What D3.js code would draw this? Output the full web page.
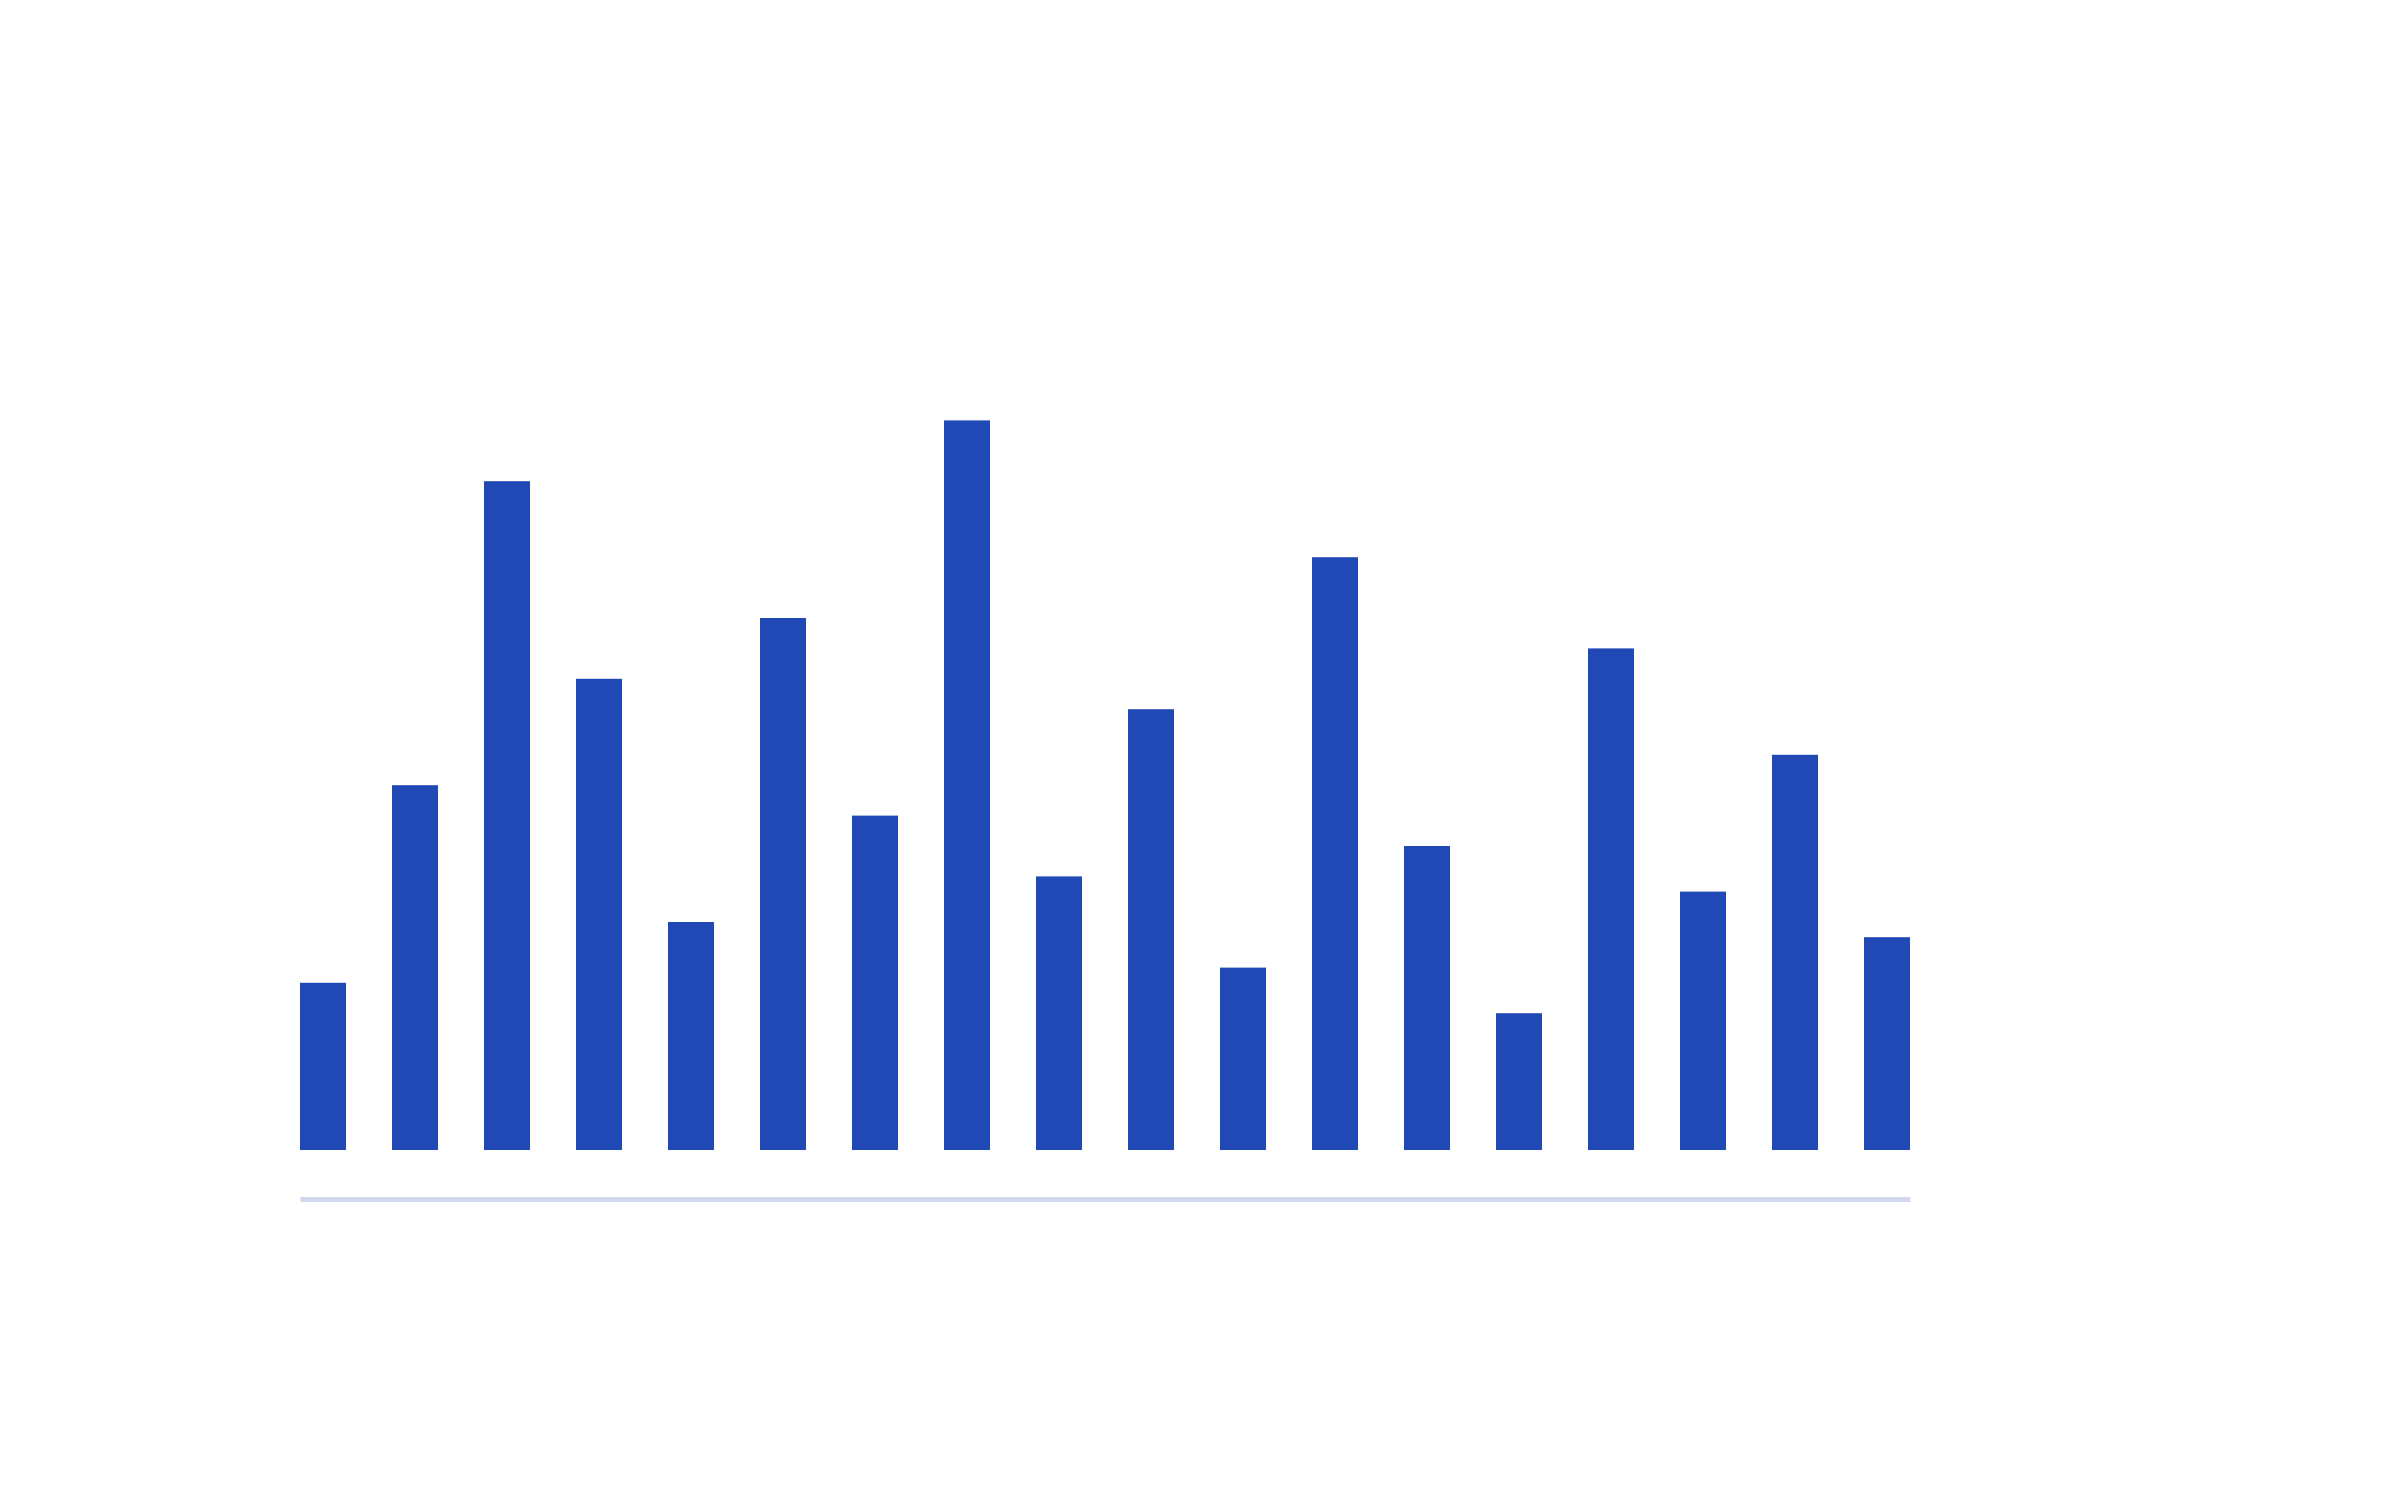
<!DOCTYPE html>
<html>
<head>
<meta charset="utf-8">
<script src="https://cdn.jsdelivr.net/npm/d3@7"></script>
<style>
  body { margin: 0; background: #fff; }
  svg { display: block; }
</style>
</head>
<body>
<svg id="chart" width="2400" height="1500"></svg>
<script>
// one bar per category, no tick labels shown in the original
const categories = ["c1", "c2", "c3", "c4", "c5", "c6", "c7", "c8", "c9",
                    "c10", "c11", "c12", "c13", "c14", "c15", "c16", "c17", "c18"];
const values = [11, 24, 44, 31, 15, 35, 22, 48, 18, 29, 12, 39, 20, 9, 33, 17, 26, 14];

const barColor = "#2049b5";
const axisColor = "#d0d9ee";

const svg = d3.select("#chart");

const baseline = 1150;

const x = d3.scaleBand()
    .domain(categories)
    .range([300, 1910])
    .paddingInner(0.5)
    .paddingOuter(0);

const y = d3.scaleLinear()
    .domain([0, 50])
    .range([baseline, baseline - 760]);

svg.append("g")
    .selectAll("rect")
    .data(values)
    .join("rect")
    .attr("x", (d, i) => x(categories[i]))
    .attr("y", d => y(d))
    .attr("width", x.bandwidth())
    .attr("height", d => y(0) - y(d))
    .attr("fill", barColor);

// bare axis line below the bars, no ticks
const axis = svg.append("g")
    .attr("transform", `translate(0, ${baseline + 49})`)
    .call(d3.axisBottom(x).tickSize(0).tickSizeOuter(0).tickFormat(""));
axis.select(".domain")
    .attr("stroke", axisColor)
    .attr("stroke-width", 5);
axis.selectAll(".tick").remove();
</script>
</body>
</html>
